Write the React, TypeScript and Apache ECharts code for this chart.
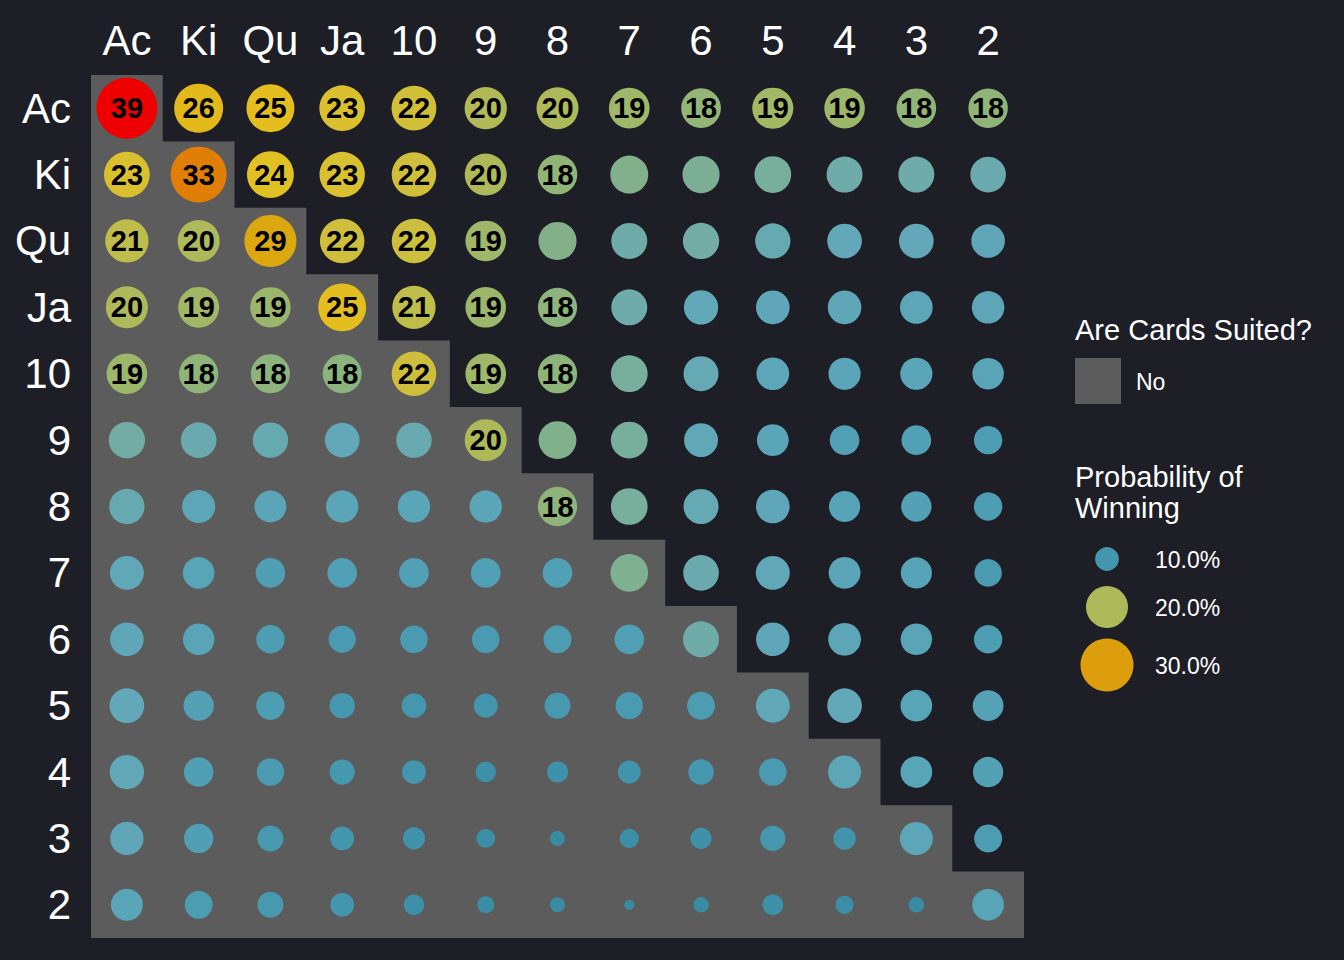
import React, { useEffect, useRef } from "react";
import * as echarts from "echarts";

const ranks = ["Ac", "Ki", "Qu", "Ja", "10", "9", "8", "7", "6", "5", "4", "3", "2"];

// Probability of winning (%), row = first card (y), column = second card (x)
const rowAc = [39.0, 26.0, 25.0, 23.0, 22.3, 20.2, 20.0, 19.0, 18.3, 19.3, 18.9, 18.2, 18.1];
const rowKi = [23.0, 33.0, 24.0, 22.8, 22.0, 20.0, 18.2, 17.1, 16.6, 16.3, 15.8, 15.8, 15.6];
const rowQu = [21.0, 20.0, 29.0, 22.0, 21.9, 19.0, 17.2, 15.8, 16.0, 15.4, 15.0, 15.0, 14.4];
const rowJa = [20.0, 19.2, 18.8, 25.0, 21.0, 18.9, 17.9, 15.8, 14.8, 14.4, 14.4, 13.9, 13.8];
const row10 = [18.9, 18.0, 17.9, 17.8, 22.0, 19.0, 18.0, 16.3, 15.2, 13.9, 13.6, 13.6, 13.3];
const row9 = [16.0, 15.6, 15.4, 15.0, 15.5, 20.0, 17.0, 16.3, 14.6, 13.5, 12.4, 12.4, 11.8];
const row8 = [15.4, 14.1, 13.5, 13.7, 13.7, 13.7, 18.0, 16.3, 15.2, 14.4, 13.1, 12.7, 11.8];
const row7 = [14.6, 13.4, 12.3, 12.4, 12.4, 12.4, 12.4, 16.9, 15.6, 14.6, 13.5, 13.1, 11.4];
const row6 = [14.4, 13.3, 11.8, 11.3, 11.4, 11.4, 11.6, 12.4, 15.8, 14.4, 13.9, 13.3, 11.8];
const row5 = [15.0, 12.7, 11.8, 10.6, 10.3, 10.1, 10.8, 11.3, 11.6, 14.6, 15.0, 13.4, 12.9];
const row4 = [14.8, 12.3, 11.4, 10.5, 10.0, 9.0, 9.2, 9.7, 10.6, 11.4, 14.1, 13.4, 12.7];
const row3 = [14.2, 12.2, 10.8, 10.0, 9.5, 8.6, 8.0, 8.7, 9.2, 10.5, 9.6, 14.1, 11.6];
const row2 = [13.5, 11.6, 10.8, 10.0, 9.0, 8.3, 8.0, 7.7, 8.05, 9.1, 8.5, 8.05, 13.4];

const winRows = [rowAc, rowKi, rowQu, rowJa, row10, row9, row8, row7, row6, row5, row4, row3, row2];

const legendValues = [10, 20, 30];
const legendLabels = ["10.0%", "20.0%", "30.0%"];

// colour scale stops (value %, colour)
const stopValues = [7.7, 9, 10, 11.5, 13.5, 15, 15.6, 16.3, 17.1, 18, 19, 20, 22, 23.5, 25, 29, 33, 39];
const stopColors = [
  "#388aa3", "#3d90a8", "#4396ae", "#4b9bb2", "#5aa5b8", "#62a8b8", "#6aaaae", "#78ae9c",
  "#82b08a", "#8eb47a", "#9eb768", "#aeb95a", "#cebe3c", "#e0c127", "#e4bd1e", "#dca80f",
  "#e07e06", "#ee0000",
];

const VMIN = 7.7;
const VMAX = 39;
const DMIN = 10;
const DMAX = 61;

function sizeFor(v: number): number {
  const t = Math.max(0, Math.min(1, (v - VMIN) / (VMAX - VMIN)));
  return DMIN + (DMAX - DMIN) * Math.sqrt(t);
}

function hexToRgb(h: string) {
  const n = parseInt(h.slice(1), 16);
  return [(n >> 16) & 255, (n >> 8) & 255, n & 255];
}

function colorFor(v: number): string {
  if (v <= stopValues[0]) return stopColors[0];
  for (let i = 1; i < stopValues.length; i++) {
    if (v <= stopValues[i]) {
      const t = (v - stopValues[i - 1]) / (stopValues[i] - stopValues[i - 1]);
      const a = hexToRgb(stopColors[i - 1]);
      const b = hexToRgb(stopColors[i]);
      const c = a.map((x, k) => Math.round(x + (b[k] - x) * t));
      return `rgb(${c[0]},${c[1]},${c[2]})`;
    }
  }
  return stopColors[stopColors.length - 1];
}

const FONT = "'Liberation Sans', Arial, Helvetica, sans-serif";
const BG = "#1e1e27";
const TILE = "#5c5c5c";

export default function App() {
  const ref = useRef<HTMLDivElement>(null);

  useEffect(() => {
    if (!ref.current) return;
    const chart = echarts.init(ref.current, undefined, { renderer: "svg" });

    const points: number[][] = [];
    const tiles: number[][] = [];
    winRows.forEach((row, y) => {
      row.forEach((v, x) => {
        points.push([x, y, v]);
        if (x <= y) tiles.push([x, y]);
      });
    });

    const legendGraphics: any[] = [
      {
        type: "text",
        left: 1075,
        top: 315,
        style: { text: "Are Cards Suited?", fill: "#ffffff", font: `29px ${FONT}` },
      },
      {
        type: "rect",
        shape: { x: 1075, y: 358, width: 46, height: 46 },
        style: { fill: TILE },
      },
      {
        type: "text",
        left: 1136,
        top: 370,
        style: { text: "No", fill: "#ffffff", font: `23px ${FONT}` },
      },
      {
        type: "text",
        left: 1075,
        top: 461,
        style: { text: "Probability of\nWinning", fill: "#ffffff", font: `29px ${FONT}`, lineHeight: 31 },
      },
    ];
    const legendY = [559, 607, 665];
    legendValues.forEach((v, i) => {
      legendGraphics.push({
        type: "circle",
        shape: { cx: 1107, cy: legendY[i], r: sizeFor(v) / 2 },
        style: { fill: colorFor(v) },
      });
      legendGraphics.push({
        type: "text",
        left: 1155,
        top: legendY[i] - 11,
        style: { text: legendLabels[i], fill: "#ffffff", font: `23px ${FONT}` },
      });
    });

    chart.setOption({
      animation: false,
      backgroundColor: BG,
      grid: { left: 91, right: 320, top: 75, bottom: 22, containLabel: false },
      xAxis: {
        type: "category",
        data: ranks,
        position: "top",
        axisLine: { show: false },
        axisTick: { show: false },
        splitLine: { show: false },
        axisLabel: { color: "#ffffff", fontSize: 42, fontFamily: FONT, margin: 14, interval: 0 },
      },
      yAxis: {
        type: "category",
        data: ranks,
        inverse: true,
        axisLine: { show: false },
        axisTick: { show: false },
        splitLine: { show: false },
        axisLabel: { color: "#ffffff", fontSize: 42, fontFamily: FONT, margin: 20, interval: 0 },
      },
      series: [
        {
          type: "custom",
          data: tiles,
          encode: { x: 0, y: 1 },
          z: 1,
          renderItem: (params: any, api: any) => {
            const c = api.coord([api.value(0), api.value(1)]);
            const s = api.size([1, 1]);
            const x = api.value(0);
            const y = api.value(1);
            // extend to neighbours on the right/bottom to avoid seams
            const extR = x < y ? 1 : 0;
            const extB = y < ranks.length - 1 ? 1 : 0;
            return {
              type: "rect",
              shape: {
                x: c[0] - s[0] / 2,
                y: c[1] - s[1] / 2,
                width: s[0] + extR,
                height: s[1] + extB,
              },
              style: { fill: TILE },
            };
          },
        },
        {
          type: "scatter",
          data: points,
          z: 2,
          symbol: "circle",
          symbolSize: (val: number[]) => sizeFor(val[2]),
          itemStyle: { color: (p: any) => colorFor(p.value[2]), opacity: 1 },
          label: {
            show: true,
            position: "inside",
            formatter: (p: any) => (p.value[2] >= 17.5 ? String(Math.round(p.value[2])) : ""),
            color: "#000000",
            fontSize: 29,
            fontWeight: "bold",
            fontFamily: FONT,
          },
        },
      ],
      graphic: legendGraphics,
    });

    return () => chart.dispose();
  }, []);

  return (
    <div
      ref={ref}
      style={{ position: "absolute", left: 0, top: 0, width: 1344, height: 960 }}
    />
  );
}
